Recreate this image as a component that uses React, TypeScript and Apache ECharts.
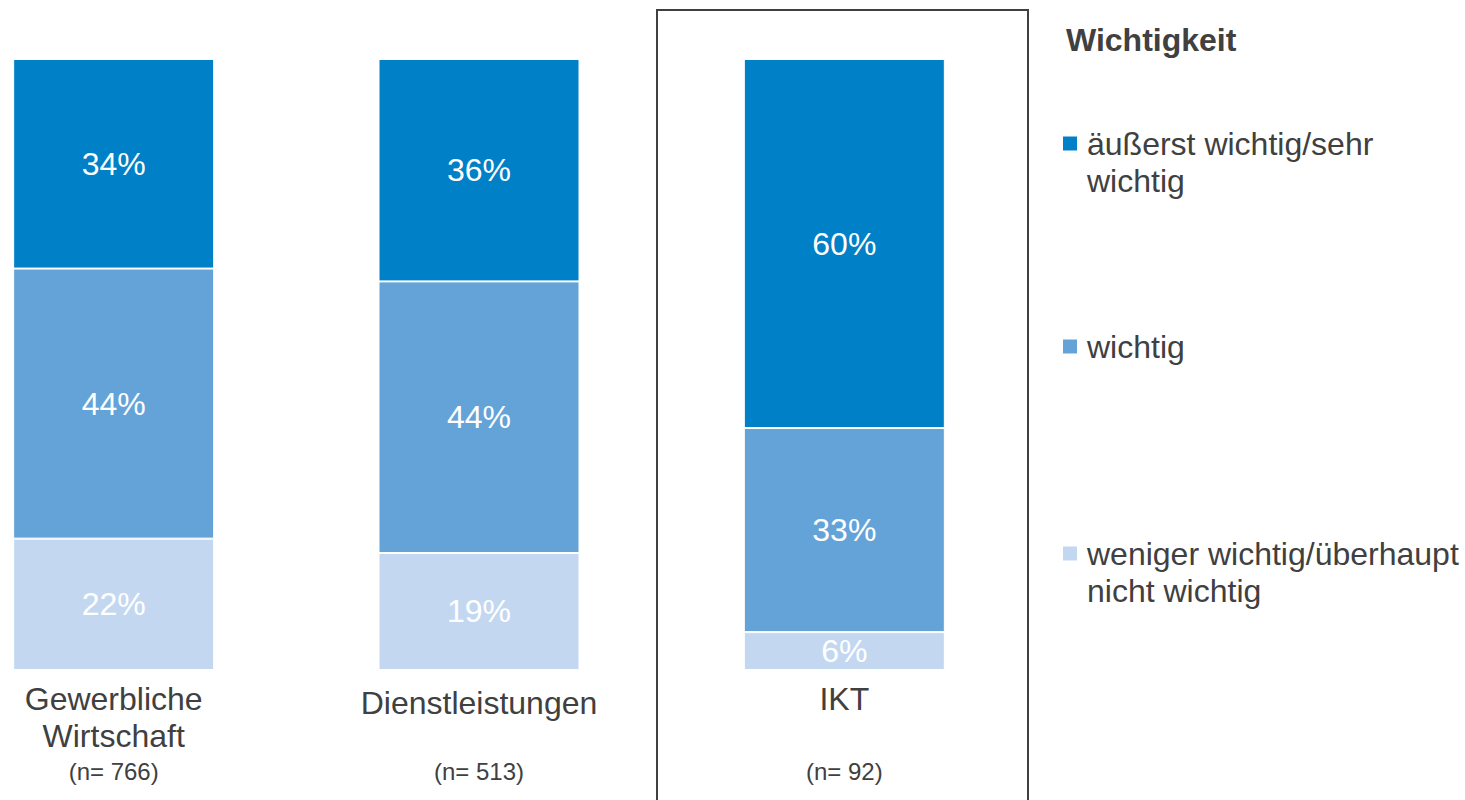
import React, { useEffect, useRef } from "react";
import * as echarts from "echarts";

const categories = ["Gewerbliche\nWirtschaft", "Dienstleistungen", "IKT"];
const sampleSizes = ["(n= 766)", "(n= 513)", "(n= 92)"];
const seriesNames = [
  "äußerst wichtig/sehr\nwichtig",
  "wichtig",
  "weniger wichtig/überhaupt\nnicht wichtig",
];
const sehrWichtig = [34.3, 36.4, 60.4];
const wichtig = [44.2, 44.45, 33.4];
const wenigerWichtig = [21.5, 19.15, 6.2];
const legendTitle = "Wichtigkeit";

const FONT = "'Liberation Sans', Arial, sans-serif";
const TEXT = "#404040";
const COLORS = ["#0080C6", "#64A3D8", "#C3D8F0"];

export default function App() {
  const ref = useRef<HTMLDivElement>(null);
  useEffect(() => {
    document.body.style.margin = "0";
    const chart = echarts.init(ref.current!, null, { renderer: "svg" });
    const values = [sehrWichtig, wichtig, wenigerWichtig];
    // stack from bottom (least important) to top (most important)
    const order = [2, 1, 0];
    const series = order.map((i) => ({
      name: seriesNames[i],
      type: "bar",
      stack: "total",
      barWidth: 201,
      data: values[i],
      itemStyle: { color: COLORS[i], borderColor: "#fff", borderWidth: 1 },
      label: {
        show: true,
        position: "inside",
        color: "#fff",
        fontFamily: FONT,
        fontSize: 32,
        formatter: (p: any) => Math.round(p.value) + "%",
      },
    }));
    const legendTops = [88, 328, 498];
    const legends = seriesNames.map((name, i) => ({
      data: [name],
      left: 1063,
      top: legendTops[i],
      padding: 0,
      icon: "rect",
      itemWidth: 14,
      itemHeight: 14,
      selectedMode: false,
      itemStyle: { borderWidth: 0 },
      formatter: (n: string) => (n.includes("\n") ? "\n" + n : n),
      textStyle: {
        fontFamily: FONT,
        fontSize: 32,
        lineHeight: 37,
        color: TEXT,
        padding: [0, 0, 0, 5],
      },
    }));
    chart.setOption({
      animation: false,
      title: {
        text: legendTitle,
        left: 1066,
        top: 24,
        padding: 0,
        textStyle: { fontFamily: FONT, fontSize: 32, fontWeight: "bold", color: TEXT },
      },
      legend: legends,
      grid: { left: -69, right: 438, top: 59, bottom: 130, outerBoundsMode: "none", containLabel: false },
      xAxis: {
        type: "category",
        data: categories,
        axisLine: { show: false },
        axisTick: { show: false },
        axisLabel: {
          margin: 10,
          interval: 0,
          fontFamily: FONT,
          lineHeight: 37,
          formatter: (v: string, idx: number) => {
            const lines = v.split("\n");
            const n = sampleSizes[idx];
            if (lines.length === 2) return `{a|${lines[0]}}\n{a|${lines[1]}}\n{n|${n}}`;
            if (idx === 1) return `{d|${lines[0]}}\n{m|${n}}`;
            return `{a|${lines[0]}}\n{k|${n}}`;
          },
          rich: {
            a: { fontFamily: FONT, fontSize: 32, lineHeight: 37, color: TEXT },
            d: { fontFamily: FONT, fontSize: 32, lineHeight: 46, color: TEXT },
            n: { fontFamily: FONT, fontSize: 24, lineHeight: 34, color: TEXT },
            m: { fontFamily: FONT, fontSize: 24, lineHeight: 90, color: TEXT },
            k: { fontFamily: FONT, fontSize: 24, lineHeight: 108, color: TEXT },
          },
        },
      },
      yAxis: {
        type: "value",
        min: 0,
        max: 100,
        show: false,
        splitLine: { show: false },
      },
      graphic: [
        {
          type: "rect",
          shape: { x: 657, y: 10, width: 371, height: 820 },
          style: { fill: "none", stroke: "#404040", lineWidth: 2 },
          silent: true,
        },
      ],
      series,
    });
    return () => chart.dispose();
  }, []);
  return <div ref={ref} style={{ width: 1465, height: 800 }} />;
}
